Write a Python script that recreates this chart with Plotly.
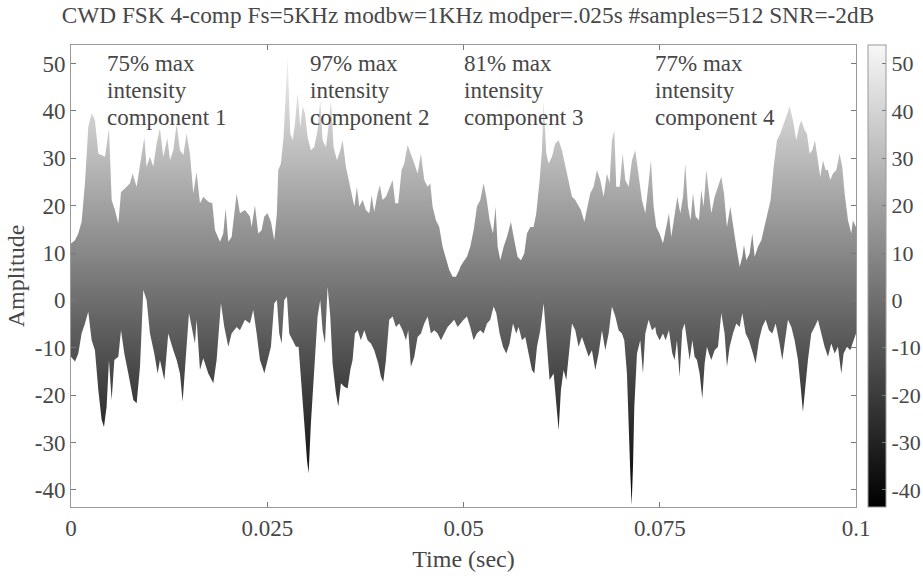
import plotly.graph_objects as go

# ---- data (time in ms, amplitude) ----
upper_time_ms = [
    0.00, 0.51, 0.93, 1.35, 1.78, 2.20, 2.63, 3.05, 3.48, 3.90, 4.33, 4.84, 5.18, 5.60, 6.03, 6.37,
    6.87, 7.51, 7.85, 8.36, 8.79, 9.34, 9.63, 10.06, 10.48, 10.91, 11.33, 11.76, 12.27, 12.61, 13.03,
    13.46, 13.88, 14.31, 14.73, 15.15, 15.58, 16.00, 16.43, 16.85, 17.49, 18.00, 18.34, 18.98, 19.40,
    19.70, 20.04, 20.46, 21.10, 21.52, 22.16, 22.80, 23.01, 23.43, 23.86, 24.28,
    24.62, 25.04, 25.47, 25.89, 26.23, 26.40, 26.74, 27.08, 27.38, 27.59, 27.93, 28.23, 28.53, 28.87,
    29.21, 29.50, 29.80, 30.14, 30.56, 30.99, 31.41, 31.75, 32.05, 32.48, 32.90, 33.11, 33.45, 33.88,
    34.30, 34.60, 35.02, 35.45, 35.75, 36.09, 36.42, 36.72, 37.15, 37.57, 38.00, 38.29, 38.63, 39.06,
    39.35, 39.69, 40.12, 40.54, 40.97, 41.31, 41.69, 42.11, 42.45, 42.88, 43.30, 43.73, 44.15, 44.58,
    45.00, 45.43, 45.77, 46.06, 46.49, 46.91, 47.34, 47.76, 48.19, 48.61, 49.04, 49.46,
    49.59, 50.01, 50.44, 50.86, 51.29, 51.71, 52.14, 52.56, 52.90, 53.33, 53.75, 54.09, 54.35, 54.69,
    55.11, 55.53, 56.04, 56.47, 56.89, 57.32, 57.74, 58.08, 58.51, 58.93, 59.27, 59.70, 59.99, 60.21,
    60.55, 60.84, 61.27, 61.69, 62.12, 62.54, 62.97, 63.39, 63.82, 64.24, 64.66, 64.96, 65.39, 65.73,
    66.15, 66.58, 67.00, 67.42, 67.85, 68.27, 68.61, 68.91, 69.21, 69.46, 69.89, 70.27, 70.61, 71.03,
    71.46, 71.88, 72.31, 72.73, 73.16, 73.58, 73.88, 74.22,
    74.56, 74.98, 75.41, 75.83, 76.17, 76.47, 76.90, 77.24, 77.62, 77.96, 78.25, 78.59, 78.93, 79.23,
    79.57, 79.99, 80.29, 80.59, 80.93, 81.27, 81.57, 81.99, 82.42, 82.84, 83.18, 83.56, 83.99, 84.33,
    84.75, 85.18, 85.52, 85.73, 86.03, 86.45, 86.79, 87.09, 87.51, 87.94, 88.36, 88.70, 89.12, 89.51,
    89.93, 90.36, 90.78, 91.21, 91.55, 91.97, 92.39, 92.73, 93.03, 93.46, 93.75, 94.09, 94.43, 94.77,
    95.15, 95.45, 95.79, 96.13, 96.43, 96.72, 97.06, 97.49, 97.91, 98.25, 98.55, 98.98, 99.40, 99.61,
    100.0,
]
upper_amp = [
    12.0, 12.7, 14.1, 16.6, 24.7, 36.6, 39.5, 38.0, 31.0, 30.7, 30.3, 36.3, 21.2, 19.1, 16.2, 22.9,
    23.6, 24.7, 26.8, 24.0, 28.2, 34.5, 28.2, 30.3, 28.2, 33.1, 36.3, 30.3, 34.2, 29.6, 31.7,
    37.3, 31.7, 30.7, 35.2, 31.0, 22.6, 27.1, 20.5, 21.9, 20.8, 20.5, 14.8, 12.4, 14.1,
    19.4, 12.4, 13.4, 22.6, 18.4, 19.1, 17.7, 15.5, 20.1, 14.1, 14.8,
    17.7, 18.4, 16.6, 12.7, 18.4, 27.5, 28.9, 34.5, 44.4, 51.4, 35.2, 33.8, 37.3, 43.7,
    36.6, 40.9, 39.5, 34.5, 31.7, 32.4, 35.9, 42.3, 33.8, 32.4, 38.0, 42.3, 32.4, 29.6,
    31.7, 33.8, 28.2, 24.7, 21.9, 19.8, 24.0, 19.8, 21.2, 19.1, 18.4, 22.2, 18.7, 22.6,
    24.3, 21.2, 21.9, 23.6, 25.4, 20.5, 20.5, 27.5, 28.9, 32.8, 31.0, 28.9, 26.8, 31.0,
    25.4, 24.0, 24.7, 19.8, 16.9, 15.5, 11.3, 8.9, 6.4, 5.0, 5.0, 6.4,
    7.1, 8.2, 9.2, 11.3, 14.8, 19.8, 21.2, 24.7, 21.9, 16.9, 14.1, 19.8, 11.3, 8.5,
    11.3, 13.4, 16.6, 12.7, 9.2, 8.5, 9.9, 14.1, 15.5, 15.5, 18.4, 25.4, 31.7, 42.0,
    31.0, 28.9, 30.3, 33.1, 33.8, 31.7, 28.2, 24.7, 21.9, 21.2, 19.8, 19.1, 16.6, 19.1,
    22.6, 24.0, 27.5, 25.4, 21.9, 26.8, 24.7, 33.8, 35.9, 24.0, 24.0, 31.0, 25.4, 24.0,
    29.6, 31.7, 26.8, 21.2, 18.4, 25.4, 29.6, 19.8,
    15.5, 14.1, 12.0, 15.5, 18.4, 13.4, 18.4, 21.9, 18.4, 21.9, 28.9, 19.8, 16.9, 22.6,
    17.7, 16.9, 23.3, 19.8, 27.5, 22.6, 18.4, 21.9, 24.0, 26.1, 22.6, 15.5, 19.8, 15.5,
    11.3, 7.1, 9.2, 11.7, 8.5, 9.9, 14.1, 9.2, 11.3, 12.7, 15.5, 18.4, 21.2, 28.2,
    33.8, 35.2, 37.3, 39.5, 40.9, 38.0, 33.8, 36.6, 38.0, 35.9, 35.2, 31.0, 31.7, 33.8,
    28.9, 26.1, 29.6, 27.5, 27.5, 25.4, 26.8, 27.5, 31.0, 28.2, 22.6, 16.9, 14.1, 16.9,
    15.5,
]

lower_time_ms = [
    0.00, 0.51, 0.93, 1.35, 1.78, 2.20, 2.63, 3.05, 3.48, 3.90, 4.20, 4.54, 4.84, 5.18, 5.52, 6.03,
    6.37, 6.79, 7.30, 7.94, 8.36, 8.79, 9.21, 9.63, 10.06, 10.61, 11.04, 11.33, 11.89, 12.39, 13.03,
    13.46, 13.88, 14.22, 14.60, 15.03, 15.37, 15.79, 16.00, 16.43, 16.85, 17.49, 18.13, 18.55, 19.10,
    19.53, 20.04, 20.46, 21.10, 21.52, 22.16, 22.80, 23.22, 23.65, 24.07, 24.50,
    24.62, 25.04, 25.47, 25.89, 26.23, 26.53, 26.83, 27.17, 27.51, 27.80, 28.23, 28.65, 28.99, 29.29,
    29.72, 30.06, 30.27, 30.56, 30.99, 31.41, 31.75, 32.05, 32.35, 32.69, 33.03, 33.32, 33.75, 34.05,
    34.39, 34.81, 35.24, 35.58, 35.87, 36.17, 36.51, 36.93, 37.36, 37.78, 38.21, 38.63, 39.14, 39.48,
    39.78, 40.12, 40.54, 40.97, 41.39, 41.82, 42.24, 42.67, 42.96, 43.30, 43.73, 44.15, 44.58, 45.00,
    45.43, 45.85, 46.28, 46.70, 47.13, 47.55, 47.98, 48.40, 48.82, 49.25,
    49.59, 50.01, 50.44, 50.86, 51.29, 51.71, 52.14, 52.56, 52.99, 53.41, 53.84, 54.18, 54.60, 55.03,
    55.45, 55.87, 56.30, 56.72, 57.02, 57.45, 57.87, 58.29, 58.72, 59.02, 59.36, 59.78, 60.21, 60.55,
    60.97, 61.48, 61.82, 62.12, 62.41, 62.75, 63.09, 63.39, 63.82, 64.24, 64.66, 65.09, 65.51, 65.94,
    66.36, 66.79, 67.21, 67.64, 68.06, 68.49, 68.91, 69.34, 69.76, 70.18, 70.48, 70.82, 71.03, 71.25,
    71.42, 71.59, 71.76, 72.10, 72.52, 72.86, 73.16, 73.58, 74.01, 74.43,
    74.56, 74.98, 75.41, 75.75, 76.17, 76.60, 76.90, 77.19, 77.53, 77.87, 78.17, 78.47, 78.81, 79.15,
    79.44, 79.74, 80.08, 80.42, 80.72, 81.01, 81.27, 81.57, 81.99, 82.42, 82.84, 83.26, 83.56, 83.90,
    84.33, 84.75, 85.18, 85.52, 85.94, 86.36, 86.87, 87.21, 87.64, 88.06, 88.49, 88.91, 89.34, 89.76,
    90.19, 90.61, 90.95, 91.33, 91.76, 92.18, 92.61, 92.95, 93.24, 93.58, 93.88, 94.30, 94.73, 95.15,
    95.58, 96.00, 96.43, 96.85, 97.28, 97.70, 98.13, 98.42, 98.85, 99.27, 99.70, 100.0,
]
lower_amp = [
    -11.9, -12.9, -11.2, -7.0, -4.9, -2.4, -8.4, -10.5, -18.9, -25.2, -26.7, -22.4, -12.6, -21.0, -12.6, -11.9,
    -6.3, -11.2, -15.4, -21.0, -21.7, -14.0, 2.2, 0.1, -7.0, -11.2, -15.4, -12.6, -16.8, -7.0, -10.5,
    -12.6, -15.4, -21.4, -12.6, -2.7, -5.6, -9.1, -4.1, -14.7, -12.2, -15.4, -17.5, -12.6, -0.6,
    -5.6, -9.8, -7.0, -5.6, -6.3, -4.1, -4.9, -2.0, -7.0, -12.6, -14.7,
    -15.4, -12.6, -9.8, -0.6, 0.1, -7.0, -9.1, 0.1, 0.8, -7.0, -8.4, -9.8, -9.8, -15.4,
    -25.9, -33.7, -36.5, -25.9, -14.0, -3.4, 0.1, -6.3, -9.1, 2.9, -3.4, -13.3, -19.6, -22.4,
    -17.5, -18.2, -18.6, -14.7, -12.6, -7.0, -6.3, -8.4, -6.3, -8.4, -9.1, -10.5, -13.3, -16.1,
    -17.2, -12.6, -4.1, -3.4, -5.6, -4.9, -6.3, -8.4, -6.3, -14.0, -11.9, -7.7, -7.0, -4.9,
    -3.4, -7.0, -6.3, -7.0, -8.4, -7.0, -5.6, -4.9, -4.1, -5.6,
    -4.9, -4.1, -3.4, -5.6, -8.4, -7.0, -6.3, -7.0, -4.9, -4.1, -1.3, -2.7, -7.0, -9.8,
    -11.2, -9.1, -4.9, -7.0, -5.6, -8.4, -7.7, -11.2, -14.7, -15.4, -9.8, -6.3, -0.6, -7.0,
    -16.8, -15.4, -21.0, -27.4, -18.9, -14.7, -16.8, -12.6, -4.9, -6.3, -9.8, -7.7, -9.8, -11.9,
    -10.5, -14.7, -11.2, -6.3, -10.5, -7.0, -1.3, -3.4, -6.3, -7.0, -8.4, -15.4, -25.9, -36.5,
    -43.2, -35.1, -22.4, -11.2, -8.4, -15.4, -7.0, -4.1, -6.3, -5.6,
    -7.0, -8.4, -7.0, -8.4, -6.3, -11.2, -12.6, -8.4, -16.1, -6.3, -4.9, -8.4, -12.6, -8.4,
    -11.9, -12.6, -15.4, -20.7, -13.3, -9.8, -11.2, -12.6, -10.5, -9.8, -2.7, -7.0, -14.0, -9.8,
    -7.0, -4.9, -5.6, -2.7, -7.0, -8.4, -11.2, -13.3, -8.4, -5.6, -4.1, -6.3, -7.0, -4.9,
    -8.4, -12.6, -8.4, -4.1, -5.6, -8.4, -12.6, -18.2, -23.5, -18.2, -12.6, -7.0, -5.6, -4.1,
    -7.0, -9.8, -11.9, -9.1, -11.2, -9.8, -15.4, -11.2, -9.8, -10.5, -8.4, -7.0,
]

annotation_lines = [
    ["75% max", "intensity", "component 1"],
    ["97% max", "intensity", "component 2"],
    ["81% max", "intensity", "component 3"],
    ["77% max", "intensity", "component 4"],
]
annotation_time = [0.00437, 0.03025, 0.04985, 0.07418]
annotation_line_amp = [50.0, 44.4, 38.7]

x_tickvals = [0, 0.025, 0.05, 0.075, 0.1]
x_ticktext = ["0", "0.025", "0.05", "0.075", "0.1"]
y_tickvals = [-40, -30, -20, -10, 0, 10, 20, 30, 40, 50]
y_ticktext = ["-40", "-30", "-20", "-10", "0", "10", "20", "30", "40", "50"]
amp_min, amp_max = -43.6, 53.9

FONT = "Liberation Serif"
TXT = "#474747"
AX = "#9a9a9a"
gray_scale = [[0.0, "#000000"], [1.0, "#f7f7f7"]]

xs = [t / 1000.0 for t in upper_time_ms] + [t / 1000.0 for t in lower_time_ms[::-1]]
ys = upper_amp + lower_amp[::-1]

fig = go.Figure()
fig.add_trace(go.Scatter(
    x=xs, y=ys, mode="lines", fill="toself",
    line=dict(width=0, color="rgba(0,0,0,0)"),
    fillgradient=dict(type="vertical", colorscale=gray_scale, start=amp_min, stop=amp_max),
    hoverinfo="skip", showlegend=False,
))
# colorbar carrier
fig.add_trace(go.Scatter(
    x=[0.05, 0.05], y=[0, 0], mode="markers", showlegend=False, hoverinfo="skip",
    marker=dict(size=0.1, opacity=0, color=[amp_min, amp_max], colorscale=gray_scale,
                cmin=amp_min, cmax=amp_max, showscale=True,
                colorbar=dict(
                    x=1.0153, xanchor="left", xref="paper", xpad=0,
                    y=0.5, yanchor="middle", len=1.0, lenmode="fraction", ypad=0,
                    thickness=18, outlinewidth=1, outlinecolor=AX,
                    tickvals=y_tickvals, ticktext=y_ticktext,
                    ticks="inside", ticklen=4, tickcolor="#777777",
                    tickfont=dict(family=FONT, size=22, color=TXT),
                )),
))

for lines, t in zip(annotation_lines, annotation_time):
    for txt, a in zip(lines, annotation_line_amp):
        fig.add_annotation(x=t, y=a, xref="x", yref="y", text=txt, showarrow=False,
                           xanchor="left", yanchor="middle",
                           font=dict(family=FONT, size=23, color=TXT))

fig.update_layout(
    width=923, height=576,
    margin=dict(l=71, r=67, t=45, b=69, autoexpand=False),
    paper_bgcolor="white", plot_bgcolor="white",
    title=dict(text="CWD FSK 4-comp Fs=5KHz modbw=1KHz modper=.025s #samples=512 SNR=-2dB",
               x=0.507, xref="container", xanchor="center",
               y=1 - 15 / 576, yref="container", yanchor="middle",
               font=dict(family=FONT, size=23.3, color=TXT)),
    xaxis=dict(range=[0, 0.1], tickvals=x_tickvals, ticktext=x_ticktext,
               showline=True, linecolor=AX, linewidth=1, mirror="ticks",
               ticks="inside", ticklen=5, tickcolor="#777777",
               showgrid=False, zeroline=False, automargin=False,
               tickfont=dict(family=FONT, size=23, color=TXT),
               title=dict(text="Time (sec)", font=dict(family=FONT, size=24, color=TXT), standoff=10)),
    yaxis=dict(range=[amp_min, amp_max], tickvals=y_tickvals, ticktext=y_ticktext,
               showline=True, linecolor=AX, linewidth=1, mirror="ticks",
               ticks="inside", ticklen=5, tickcolor="#777777",
               showgrid=False, zeroline=False, automargin=False,
               tickfont=dict(family=FONT, size=23, color=TXT),
               title=dict(text="Amplitude", font=dict(family=FONT, size=24, color=TXT), standoff=3)),
)

fig.write_html("out.html")
